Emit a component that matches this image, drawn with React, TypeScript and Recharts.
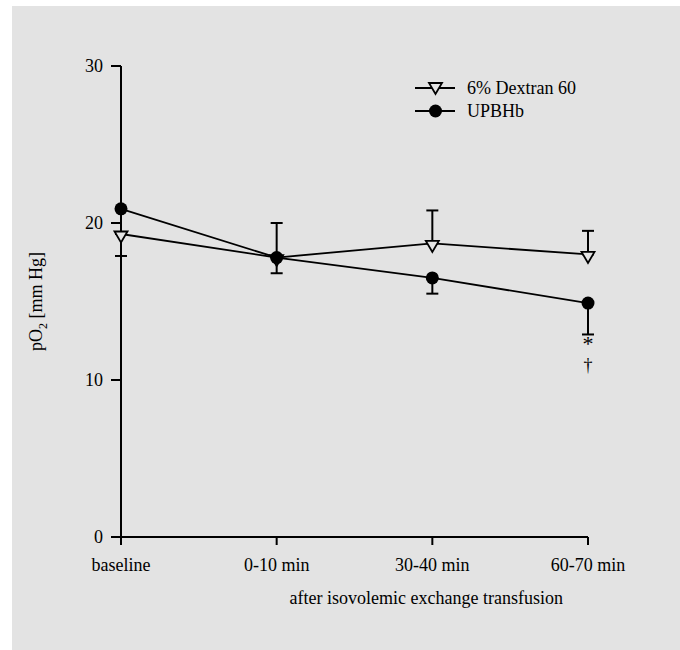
import React from "react"
import { LineChart, Line, XAxis, YAxis, ErrorBar, Legend, LabelList } from "recharts"

const categories = ["baseline", "0-10 min", "30-40 min", "60-70 min"]
const dextran = [19.3, 17.8, 18.7, 18.0]
const dextranErr = [[1.4, 0], [0, 2.2], [0, 2.1], [0, 1.5]]
const upbhb = [20.9, 17.8, 16.5, 14.9]
const upbhbErr = [null, [1.0, 0], [1.0, 0], [2.0, 0]]
const upbhbMarks = [[], [], [], ["*", "†"]]
const yTicks = [0, 10, 20, 30]

const seriesNames = { dextran: "6% Dextran 60", upbhb: "UPBHb" }

const data = categories.map((time, i) => ({
  time,
  dextran: dextran[i],
  dextranErr: dextranErr[i],
  upbhb: upbhb[i],
  upbhbErr: upbhbErr[i],
  marks: upbhbMarks[i],
}))

const BG = "#e3e3e3"
const FONT = "'Liberation Serif', 'Times New Roman', serif"
const FS = 18

function TriangleDot(props: any) {
  const { cx, cy } = props
  if (cx == null || cy == null) return null
  return (
    <polygon
      points={`${cx - 6.5},${cy - 2.5} ${cx + 6.5},${cy - 2.5} ${cx},${cy + 8.5}`}
      fill={BG}
      stroke="#000"
      strokeWidth={1.8}
    />
  )
}

function CircleDot(props: any) {
  const { cx, cy } = props
  if (cx == null || cy == null) return null
  return <circle cx={cx} cy={cy} r={6.5} fill="#000" stroke="none" />
}

function MarkLabel(props: any) {
  const { x, y, value } = props
  if (!value || !value.length) return null
  return (
    <g>
      {value.map((m: string, i: number) => (
        <text key={i} x={x} y={y + (i === 0 ? 48 : 68)} textAnchor="middle" fontFamily={FONT} fontSize={i === 0 ? 22 : FS} fill="#000">
          {m}
        </text>
      ))}
    </g>
  )
}

function YLabel(props: any) {
  const { viewBox } = props
  const cy = viewBox.y + viewBox.height / 2
  const x = 30
  return (
    <text x={x} y={cy} transform={`rotate(-90, ${x}, ${cy})`} textAnchor="middle" fontFamily={FONT} fontSize={FS} fill="#000">
      pO<tspan fontSize={12} dy={5}>2</tspan>
      <tspan dy={-5}> [mm Hg]</tspan>
    </text>
  )
}

function XLabel(props: any) {
  const { viewBox } = props
  return (
    <text x={viewBox.x + viewBox.width - 25} y={viewBox.y + 67} textAnchor="end" fontFamily={FONT} fontSize={FS} fill="#000">
      after isovolemic exchange transfusion
    </text>
  )
}

function LegendContent() {
  const rows = [
    { name: seriesNames.dextran, kind: "tri" },
    { name: seriesNames.upbhb, kind: "dot" },
  ]
  return (
    <svg width={220} height={50} style={{ overflow: "visible" }}>
      {rows.map((r, i) => {
        const cy = 12 + i * 23
        return (
          <g key={i}>
            <line x1={0} y1={cy} x2={40} y2={cy} stroke="#000" strokeWidth={1.8} />
            {r.kind === "tri" ? (
              <polygon points={`${14},${cy - 5} ${27},${cy - 5} ${20.5},${cy + 6}`} fill={BG} stroke="#000" strokeWidth={1.8} />
            ) : (
              <circle cx={20.5} cy={cy} r={6.5} fill="#000" />
            )}
            <text x={52} y={cy + 6} fontFamily={FONT} fontSize={FS} fill="#000">
              {r.name}
            </text>
          </g>
        )
      })}
    </svg>
  )
}

export default function App() {
  return (
    <div style={{ position: "absolute", left: 12, top: 6, width: 668, height: 644, background: BG }}>
      <LineChart width={668} height={644} data={data} margin={{ top: 60, right: 92, left: 0, bottom: 30 }}>
        <XAxis
          dataKey="time"
          height={83}
          tickSize={8}
          tickMargin={13}
          axisLine={{ stroke: "#000", strokeWidth: 2 }}
          tickLine={{ stroke: "#000", strokeWidth: 2 }}
          tick={{ fill: "#000", fontFamily: FONT, fontSize: FS }}
          label={{ content: XLabel }}
        />
        <YAxis
          domain={[0, 30]}
          ticks={yTicks}
          width={109}
          tickSize={10}
          tickMargin={8}
          axisLine={{ stroke: "#000", strokeWidth: 2 }}
          tickLine={{ stroke: "#000", strokeWidth: 2 }}
          tick={{ fill: "#000", fontFamily: FONT, fontSize: FS }}
          label={{ content: YLabel }}
        />
        <Legend
          layout="vertical"
          align="center"
          verticalAlign="middle"
          wrapperStyle={{ position: "absolute", left: 403, top: 70, width: 240 }}
          content={LegendContent}
        />
        <Line
          dataKey="dextran"
          name={seriesNames.dextran}
          stroke="#000"
          strokeWidth={1.8}
          dot={(p: any) => <TriangleDot key={p.index} {...p} />}
          isAnimationActive={false}
        >
          <ErrorBar dataKey="dextranErr" width={6} stroke="#000" strokeWidth={2} direction="y" />
        </Line>
        <Line
          dataKey="upbhb"
          name={seriesNames.upbhb}
          stroke="#000"
          strokeWidth={1.8}
          dot={(p: any) => <CircleDot key={p.index} {...p} />}
          isAnimationActive={false}
        >
          <ErrorBar dataKey="upbhbErr" width={6} stroke="#000" strokeWidth={2} direction="y" />
          <LabelList dataKey="marks" content={MarkLabel} />
        </Line>
      </LineChart>
    </div>
  )
}
